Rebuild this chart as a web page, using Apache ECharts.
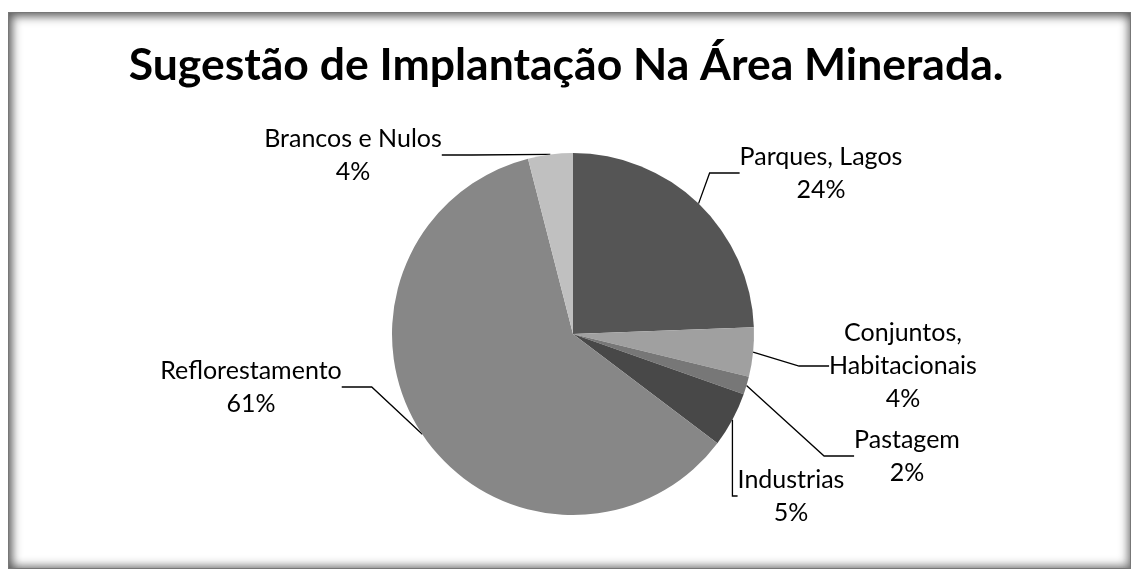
<!DOCTYPE html>
<html>
<head>
<meta charset="utf-8">
<script src="https://cdn.jsdelivr.net/npm/echarts@6/dist/echarts.min.js"></script>
<style>
  html, body { margin: 0; padding: 0; background: #fff; }
  #chart { width: 1132px; height: 570px; }
  #frame {
    position: absolute; left: 8px; top: 12px; width: 1121px; height: 555px;
    border: 1px solid #777;
    box-shadow: inset 3px 3px 10px 1px rgba(0,0,0,0.5), inset -2px -2px 10px 1px rgba(0,0,0,0.35);
    pointer-events: none;
  }
</style>
</head>
<body>
<div id="chart"></div>
<div id="frame"></div>
<script>
// categorias e valores (%)
const categories = ['Parques, Lagos', 'Conjuntos,\nHabitacionais', 'Pastagem', 'Industrias', 'Reflorestamento', 'Brancos e Nulos']
const values = [24.4, 4.4, 1.6, 4.9, 60.7, 4.0]
const colors = ['#555555', '#a0a0a0', '#777777', '#484848', '#878787', '#c0c0c0']

// posição dos rótulos (centro do texto)
const labelPos = [[821, 173], [903, 366], [907, 456], [821, 496], [251, 387], [353, 155]]

const chart = echarts.init(document.getElementById('chart'))

chart.setOption({
  animation: false,
  title: {
    text: 'Sugestão de Implantação Na Área Minerada.',
    left: 'center',
    top: 38,
    textStyle: { fontFamily: 'Lato', fontWeight: 'bold', fontSize: 44.5, color: '#000' }
  },
  series: [{
    type: 'pie',
    center: [573, 334],
    radius: 181,
    startAngle: 90,
    data: categories.map((c, i) => ({
      name: c,
      value: values[i],
      itemStyle: { color: colors[i] },
      // Industrias: caixa alargada à direita para a linha chegar pela esquerda
      label: i === 3 ? { padding: [0, 60, 0, 0] } : undefined
    })),
    label: {
      show: true,
      fontFamily: 'Lato',
      fontSize: 25,
      lineHeight: 33,
      color: '#000',
      align: 'center',
      formatter: p => p.name + '\n' + Math.round(p.percent) + '%'
    },
    labelLine: {
      show: true,
      lineStyle: { color: '#000', width: 1.3 }
    },
    labelLayout: function (params) {
      const p = labelPos[params.dataIndex]
      return { x: p[0], y: p[1], align: 'center', verticalAlign: 'middle' }
    }
  }]
})
</script>
</body>
</html>
